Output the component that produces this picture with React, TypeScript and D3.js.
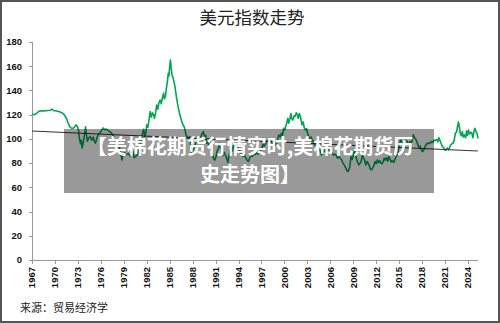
import React from "react";
import * as d3 from "d3";

const W = 500;
const H = 323;

const titleText = "美元指数走势";
const sourceText = "来源：贸易经济学";
const overlayLines = ["【美棉花期货行情实时,美棉花期货历", "史走势图】"];

const yTicks = [0, 20, 40, 60, 80, 100, 120, 140, 160, 180];
const xTickYears = [1967, 1970, 1973, 1976, 1979, 1982, 1985, 1988, 1991, 1994, 1997, 2000, 2003, 2006, 2009, 2012, 2015, 2018, 2021, 2024];

// Dollar index (time in decimal years, value)
const times = [
  1967.0, 1967.3, 1967.6, 1967.9, 1968.2, 1968.6, 1969.0, 1969.4, 1969.6, 1969.8,
  1970.2, 1970.6, 1970.9, 1971.2, 1971.5, 1971.7, 1971.9, 1972.1, 1972.4, 1972.6,
  1972.75, 1972.9, 1973.1, 1973.2, 1973.35, 1973.45, 1973.55, 1973.7, 1973.85, 1974.0,
  1974.1, 1974.25, 1974.4, 1974.6, 1974.8, 1975.0, 1975.15, 1975.3, 1975.5, 1975.7,
  1975.9, 1976.1, 1976.3, 1976.5, 1976.7, 1977.0, 1977.3, 1977.6, 1977.8, 1978.0,
  1978.2, 1978.4, 1978.6, 1978.75, 1978.9, 1979.1, 1979.3, 1979.6, 1979.8, 1980.0,
  1980.2, 1980.35, 1980.5, 1980.7, 1980.9, 1981.1, 1981.3, 1981.5, 1981.6, 1981.75,
  1981.9, 1982.0, 1982.15, 1982.3, 1982.45, 1982.6, 1982.75, 1982.9, 1983.0, 1983.15,
  1983.3, 1983.45, 1983.6, 1983.75, 1983.9, 1984.05, 1984.2, 1984.3, 1984.45, 1984.55,
  1984.7, 1984.8, 1984.9, 1985.0, 1985.1, 1985.2, 1985.3, 1985.45, 1985.6, 1985.7,
  1985.85, 1986.0, 1986.1, 1986.25, 1986.4, 1986.6, 1986.75, 1986.9, 1987.0, 1987.15,
  1987.3, 1987.45, 1987.6, 1987.7, 1987.85, 1988.0, 1988.15, 1988.3, 1988.45, 1988.6,
  1988.75, 1988.9, 1989.05, 1989.2, 1989.4, 1989.55, 1989.7, 1989.8, 1989.95, 1990.1,
  1990.3, 1990.5, 1990.65, 1990.8, 1990.9, 1991.05, 1991.2, 1991.4, 1991.5, 1991.65,
  1991.8, 1991.95, 1992.1, 1992.25, 1992.45, 1992.6, 1992.75, 1992.9, 1993.05, 1993.2,
  1993.35, 1993.5, 1993.65, 1993.8, 1994.0, 1994.15, 1994.3, 1994.45, 1994.6, 1994.75,
  1994.9, 1995.1, 1995.3, 1995.45, 1995.6, 1995.8, 1996.0, 1996.15, 1996.35, 1996.55,
  1996.75, 1996.9, 1997.05, 1997.2, 1997.35, 1997.55, 1997.7, 1997.9, 1998.05, 1998.2,
  1998.35, 1998.5, 1998.65, 1998.8, 1998.95, 1999.1, 1999.25, 1999.45, 1999.6, 1999.75,
  1999.9, 2000.05, 2000.2, 2000.3, 2000.45, 2000.55, 2000.7, 2000.85, 2000.95, 2001.1,
  2001.25, 2001.4, 2001.55, 2001.7, 2001.8, 2001.95, 2002.1, 2002.3, 2002.45, 2002.6,
  2002.75, 2002.9, 2003.05, 2003.2, 2003.35, 2003.5, 2003.65, 2003.8, 2003.95, 2004.1,
  2004.25, 2004.4, 2004.55, 2004.7, 2004.85, 2005.0, 2005.15, 2005.3, 2005.5, 2005.65,
  2005.8, 2005.95, 2006.1, 2006.3, 2006.45, 2006.6, 2006.8, 2006.95, 2007.1, 2007.3,
  2007.5, 2007.65, 2007.8, 2007.95, 2008.1, 2008.25, 2008.4, 2008.55, 2008.7, 2008.85,
  2009.0, 2009.15, 2009.3, 2009.45, 2009.6, 2009.75, 2009.9, 2010.05, 2010.2, 2010.35,
  2010.5, 2010.65, 2010.8, 2010.95, 2011.1, 2011.25, 2011.4, 2011.55, 2011.7, 2011.85,
  2012.0, 2012.15, 2012.3, 2012.45, 2012.6, 2012.75, 2012.9, 2013.05, 2013.2, 2013.35,
  2013.5, 2013.65, 2013.8, 2013.95, 2014.1, 2014.3, 2014.5, 2014.65, 2014.8, 2014.9,
  2015.05, 2015.2, 2015.35, 2015.5, 2015.65, 2015.8, 2015.95, 2016.1, 2016.25, 2016.4,
  2016.55, 2016.7, 2016.85, 2017.0, 2017.15, 2017.3, 2017.45, 2017.6, 2017.75, 2017.9,
  2018.05, 2018.2, 2018.35, 2018.5, 2018.65, 2018.8, 2018.95, 2019.1, 2019.25, 2019.4,
  2019.55, 2019.7, 2019.9, 2020.05, 2020.2, 2020.35, 2020.5, 2020.65, 2020.8, 2020.95,
  2021.1, 2021.3, 2021.45, 2021.6, 2021.75, 2021.9, 2022.05, 2022.2, 2022.35, 2022.5,
  2022.6, 2022.75, 2022.85, 2023.0, 2023.15, 2023.25, 2023.4, 2023.55, 2023.7, 2023.8,
  2023.95, 2024.05, 2024.2, 2024.35, 2024.5, 2024.65, 2024.8, 2024.9, 2025.05, 2025.2,
  2025.3,
];

const values = [
  120.5, 120.0, 121.0, 122.8, 123.2, 123.0, 123.4, 123.6, 124.5, 123.5,
  123.0, 122.4, 121.6, 120.0, 117.0, 113.5, 110.5, 109.0, 108.8, 110.0,
  111.5, 110.5, 107.0, 100.0, 96.0, 99.0, 92.5, 97.0, 103.0, 110.0,
  104.0, 98.0, 100.5, 102.0, 99.0, 101.5, 98.0, 96.5, 101.0, 104.0,
  105.0, 107.0, 109.0, 107.5, 108.2, 106.6, 105.5, 103.0, 100.0, 96.0,
  92.5, 94.0, 88.0, 82.6, 86.0, 88.5, 87.0, 88.0, 86.0, 87.0,
  89.5, 84.5, 85.4, 86.0, 89.0, 93.6, 100.0, 106.0, 108.0, 102.0,
  105.5, 111.6, 109.5, 116.0, 122.6, 118.0, 121.5, 120.0, 117.0, 121.0,
  128.0, 124.5, 130.0, 132.0, 129.0, 134.0, 137.8, 133.0, 135.0, 141.0,
  147.0, 154.0, 152.0, 160.0, 165.0, 158.0, 153.0, 150.0, 146.0, 143.0,
  136.0, 130.0, 126.7, 122.0, 118.5, 114.0, 111.5, 110.0, 107.4, 103.0,
  101.5, 100.5, 102.0, 97.0, 88.0, 90.5, 92.0, 93.6, 98.0, 101.5,
  97.0, 99.0, 101.0, 104.0, 106.0, 101.5, 103.0, 96.4, 98.0, 95.0,
  93.5, 89.5, 86.0, 83.0, 82.6, 85.0, 90.0, 92.3, 96.5, 93.0,
  90.0, 86.0, 89.0, 87.0, 84.0, 80.5, 86.0, 89.5, 93.0, 90.0,
  95.0, 92.5, 94.0, 96.0, 92.0, 90.0, 89.5, 87.0, 85.5, 87.5,
  85.0, 82.5, 81.3, 84.0, 86.8, 85.5, 88.0, 87.0, 88.5, 87.5,
  89.0, 90.5, 92.3, 95.5, 94.0, 96.0, 98.5, 97.8, 99.5, 98.0,
  97.0, 96.4, 98.0, 94.5, 96.0, 99.0, 103.3, 101.5, 104.5, 103.0,
  108.8, 107.5, 111.0, 113.0, 117.0, 113.0, 116.0, 121.0, 117.0, 115.5,
  119.0, 118.5, 121.5, 120.0, 117.0, 121.0, 118.0, 111.6, 114.0, 109.0,
  107.4, 108.5, 104.0, 102.0, 100.5, 101.5, 97.8, 98.5, 95.0, 93.6,
  96.0, 94.0, 92.5, 89.5, 86.8, 88.0, 91.0, 89.5, 92.3, 90.5,
  92.0, 91.0, 89.5, 88.0, 86.5, 87.5, 86.0, 84.0, 85.5, 84.0,
  82.5, 80.0, 78.5, 77.0, 75.0, 73.0, 74.0, 77.0, 85.4, 83.0,
  86.0, 91.0, 87.0, 83.0, 80.0, 78.5, 80.0, 82.0, 86.8, 84.0,
  82.0, 78.5, 81.3, 80.0, 77.5, 75.0, 74.4, 76.0, 78.0, 81.3,
  79.5, 82.6, 80.5, 82.0, 80.0, 79.5, 81.0, 84.0, 82.5, 84.5,
  81.5, 85.4, 83.5, 81.0, 82.0, 80.5, 84.0, 86.0, 88.5, 91.0,
  95.0, 100.5, 97.0, 96.0, 97.8, 99.5, 98.5, 97.0, 95.0, 97.8,
  96.0, 99.0, 103.3, 101.0, 100.0, 97.8, 95.0, 93.0, 94.0, 91.0,
  89.5, 90.5, 93.0, 95.0, 96.4, 96.0, 97.0, 96.5, 98.0, 97.0,
  99.0, 98.5, 99.7, 97.5, 101.0, 98.5, 96.0, 93.6, 93.0, 91.0,
  90.5, 92.5, 91.0, 93.0, 95.0, 96.0, 96.5, 99.0, 104.7, 105.5,
  109.0, 114.0, 111.0, 104.0, 102.5, 106.0, 101.5, 103.3, 101.0, 106.5,
  103.0, 107.4, 104.0, 105.5, 104.7, 101.0, 107.0, 108.8, 106.0, 104.0,
  100.5,
];

// Linear trend line endpoints
const trendTimes = [1967.0, 2025.3];
const trendValues = [106.5, 90.0];

export default function App() {
  const x = d3.scaleLinear().domain([1967, 2024]).range([32, 468]);
  const y = d3.scaleLinear().domain([0, 180]).range([260, 42]);
  const axisEnd = x(2025.3);

  const pts = times.map((t, i) => [t, values[i]] as [number, number]);
  const line = d3
    .line<[number, number]>()
    .x((d) => x(d[0]))
    .y((d) => y(d[1]));
  const trend = trendTimes.map((t, i) => [t, trendValues[i]] as [number, number]);

  const font = "'Liberation Sans', Arial, sans-serif";
  const cjk = "'Noto Sans CJK SC', sans-serif";

  return (
    <svg
      width={W}
      height={H}
      style={{ position: "absolute", left: 0, top: 0, background: "#fff" }}
    >
      <rect x={0} y={0} width={W} height={H} fill="#fff" />
      <text x={252} y={24} textAnchor="middle" fontFamily={cjk} fontSize={17.5} fill="#222">
        {titleText}
      </text>

      {/* y axis */}
      <line x1={32.5} x2={32.5} y1={y(180)} y2={y(0)} stroke="#999" strokeWidth={1} />
      {yTicks.map((t) => (
        <g key={t}>
          <line x1={29} x2={32.5} y1={Math.round(y(t)) + 0.5} y2={Math.round(y(t)) + 0.5} stroke="#999" />
          <text
            x={22}
            y={y(t)}
            dy="0.35em"
            textAnchor="end"
            fontFamily={font}
            fontWeight="bold"
            fontSize={9.5}
            fill="#111"
          >
            {t}
          </text>
        </g>
      ))}

      {/* x axis */}
      <line x1={32} x2={axisEnd} y1={260.5} y2={260.5} stroke="#999" strokeWidth={1} />
      {xTickYears.map((yr) => (
        <g key={yr}>
          <line x1={Math.round(x(yr)) + 0.5} x2={Math.round(x(yr)) + 0.5} y1={260.5} y2={264} stroke="#999" />
          <text
            transform={`translate(${x(yr)},267) rotate(-90)`}
            dy="0.35em"
            textAnchor="end"
            fontFamily={font}
            fontWeight="bold"
            fontSize={9.5}
            fill="#111"
          >
            {yr}
          </text>
        </g>
      ))}

      {/* data */}
      <path d={line(pts) || ""} fill="none" stroke="#00a650" strokeWidth={1.6} strokeLinejoin="round" />
      <path d={line(trend) || ""} fill="none" stroke="#333" strokeWidth={1} />

      {/* overlay */}
      <rect x={64} y={129} width={370} height={64} fill="rgba(0,0,0,0.4)" />
      {overlayLines.map((s, i) => (
        <text
          key={i}
          x={250}
          y={147 + i * 28}
          dy="0.36em"
          textAnchor="middle"
          fontFamily={cjk}
          fontWeight="bold"
          fontSize={20}
          fill="#fff"
        >
          {s}
        </text>
      ))}

      <text x={20} y={312} fontFamily={cjk} fontSize={11} fill="#222">
        {sourceText}
      </text>

      <rect x={1} y={1} width={W - 2} height={H - 2} fill="none" stroke="#555" strokeWidth={2} />
    </svg>
  );
}
